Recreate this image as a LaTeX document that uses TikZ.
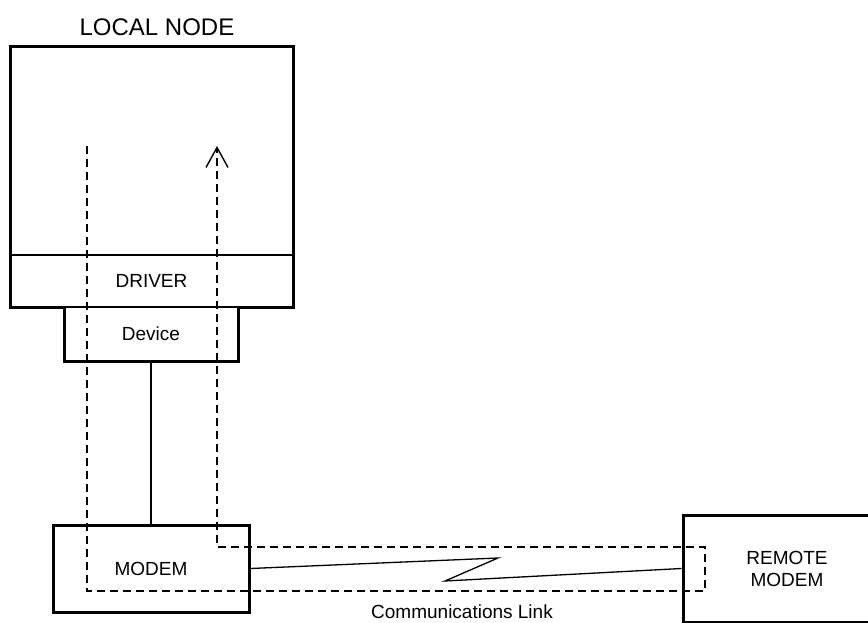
\documentclass[tikz,border=0pt]{standalone}
\usepackage{fontspec}
\setmainfont{Liberation Sans}
\usetikzlibrary{arrows.meta,positioning}
\tikzset{
  unit/.style={draw,line width=3pt,minimum width=#1},
  blank/.style={inner sep=0pt,outer sep=0pt},
  label19/.style={font=\fontsize{19}{22}\selectfont,align=center},
  path/.style={dash pattern=on 8pt off 5pt,line width=1.4pt},
  wire/.style={line width=1.3pt}
}

\begin{document}
\begin{tikzpicture}[x=1pt,y=-1pt]
        \useasboundingbox (0,0) rectangle (868,623);
        % local node outline, driver and device
        \node[blank,minimum width=283pt,minimum height=260pt] (host) at (151.5,177) {};
        \node[blank,minimum width=283pt,minimum height=52pt] (driver) at (151.5,281) {};
        \node[blank,minimum width=174pt,minimum height=54pt] (device) at (151,334) {};
        \node[font=\fontsize{24}{28}\selectfont] (title) at (157,27) {LOCAL NODE};
        \node[label19] at (driver) {DRIVER};
        \node[label19] at (device) {Device};
        \draw[line width=3pt,line join=miter] (host.north west) -- (host.north east) -- (host.south east)
          -- (device.north east) -- (device.south east) -- (device.south west)
          -- (device.north west) -- (host.south west) -- cycle;
        \draw[wire] (driver.north west) -- (driver.north east);
        \draw[wire] (device.north west) -- (device.north east);
        % modems
        \node[unit=196pt,minimum height=87pt,label19] (modem) at (151,568.5) {MODEM};
        \node[unit=208pt,minimum height=107pt,label19] (remote) at (787,568.5) {REMOTE\\MODEM};
        \draw[wire] (device.south) -- (modem.north);
        % communications link
        \coordinate (zigA) at (498,558);
        \coordinate (zigB) at (445,581);
        \draw[wire,line join=miter] (modem.east) -- (zigA) -- (zigB) -- (remote.west);
        \node[label19] (link) at (462,612) {Communications Link};
        % loop back path
        \coordinate (outTop) at (87,146);
        \coordinate (outLow) at (87,591);
        \coordinate (farLow) at (705,591);
        \coordinate (farUp) at (705,547);
        \coordinate (backUp) at (217,547);
        \coordinate (backTop) at (217,146);
        \draw[path,-{Straight Barb[length=20pt,width=22pt,line width=1.4pt]}]
          (outTop) -- (outLow) -- (farLow) -- (farUp) -- (backUp) -- (backTop);
      \end{tikzpicture}
\end{document}
